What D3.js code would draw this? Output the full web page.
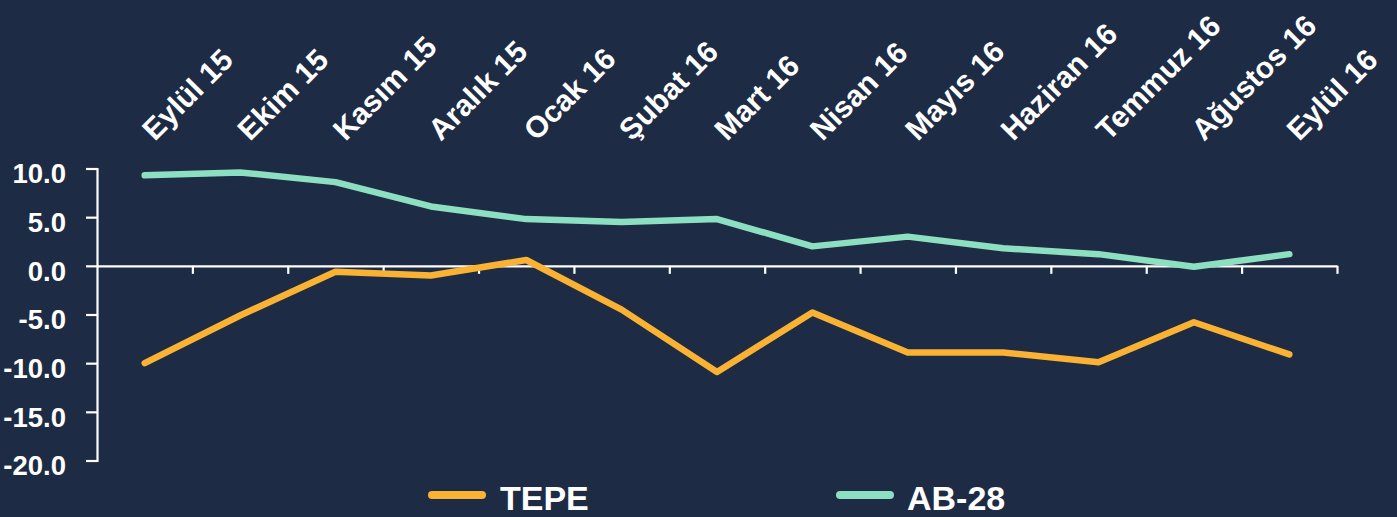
<!DOCTYPE html>
<html>
<head>
<meta charset="utf-8">
<script src="https://cdn.jsdelivr.net/npm/d3@7"></script>
<style>
  html, body { margin: 0; padding: 0; background: #1e2b44; }
  svg { display: block; }
  text { font-family: "Liberation Sans", Arial, sans-serif; font-weight: bold; fill: #ffffff; }
</style>
</head>
<body>
<svg id="chart" width="1397" height="517"></svg>
<script>
const categories = ["Eylül 15", "Ekim 15", "Kasım 15", "Aralık 15", "Ocak 16", "Şubat 16", "Mart 16",
                    "Nisan 16", "Mayıs 16", "Haziran 16", "Temmuz 16", "Ağustos 16", "Eylül 16"];
const tepe = [-10.0, -5.1, -0.6, -1.0, 0.6, -4.5, -10.9, -4.8, -8.9, -8.9, -9.9, -5.8, -9.1];
const ab28 = [9.3, 9.6, 8.6, 6.1, 4.8, 4.5, 4.8, 2.0, 3.0, 1.8, 1.2, -0.1, 1.2];
const yTicks = [-20, -15, -10, -5, 0, 5, 10];
const seriesNames = ["TEPE", "AB-28"];
const seriesColors = ["#f9b233", "#8ddfc1"];

const svg = d3.select("#chart");
const plotLeft = 97, plotRight = 1337, plotTop = 168.5, plotBottom = 460.5;

const y = d3.scaleLinear().domain([-20, 10]).range([plotBottom, plotTop]);
const xb = d3.scaleLinear().domain([0, categories.length]).range([plotLeft, plotRight]);
const xc = i => xb(i + 0.5);

// y axis
const yAxis = d3.axisLeft(y).tickValues(yTicks).tickSize(11).tickSizeOuter(11)
  .tickFormat(d => d.toFixed(1));
const gy = svg.append("g").attr("transform", `translate(${plotLeft},0)`).call(yAxis);
gy.selectAll("path, line").attr("stroke", "#ffffff").attr("stroke-width", 2.2);
gy.selectAll("text").attr("fill", "#ffffff").attr("font-size", 27.5).attr("x", -31).attr("dy", "0.52em")
  .style("font-family", "'Liberation Sans', Arial, sans-serif").style("font-weight", "bold");

// x axis at zero
const xAxis = d3.axisBottom(xb).tickValues(d3.range(1, categories.length + 1)).tickSize(8).tickSizeOuter(0)
  .tickFormat("");
const gx = svg.append("g").attr("transform", `translate(0,${y(0)})`).call(xAxis);
gx.selectAll("path, line").attr("stroke", "#ffffff").attr("stroke-width", 2.2);

// category labels (top, rotated)
svg.append("g").selectAll("text").data(categories).join("text")
  .attr("transform", (d, i) => `translate(${xc(i) + 10},${142}) rotate(-45)`)
  .attr("text-anchor", "start")
  .attr("font-size", 30)
  .text(d => d);

// lines
const line = d3.line().x((d, i) => xc(i)).y(d => y(d));
[tepe, ab28].forEach((s, k) => {
  svg.append("path").datum(s)
    .attr("d", line)
    .attr("fill", "none")
    .attr("stroke", seriesColors[k])
    .attr("stroke-width", 6.5)
    .attr("stroke-linecap", "round")
    .attr("stroke-linejoin", "round");
});

// legend
const legendX = [428, 836];
const leg = svg.append("g");
seriesNames.forEach((name, k) => {
  leg.append("line")
    .attr("x1", legendX[k] + 4).attr("x2", legendX[k] + 54)
    .attr("y1", 495).attr("y2", 495)
    .attr("stroke", seriesColors[k]).attr("stroke-width", 8).attr("stroke-linecap", "round");
  leg.append("text")
    .attr("x", legendX[k] + (k === 0 ? 72 : 71))
    .attr("y", 510)
    .attr("font-size", 34)
    .text(name);
});
</script>
</body>
</html>
